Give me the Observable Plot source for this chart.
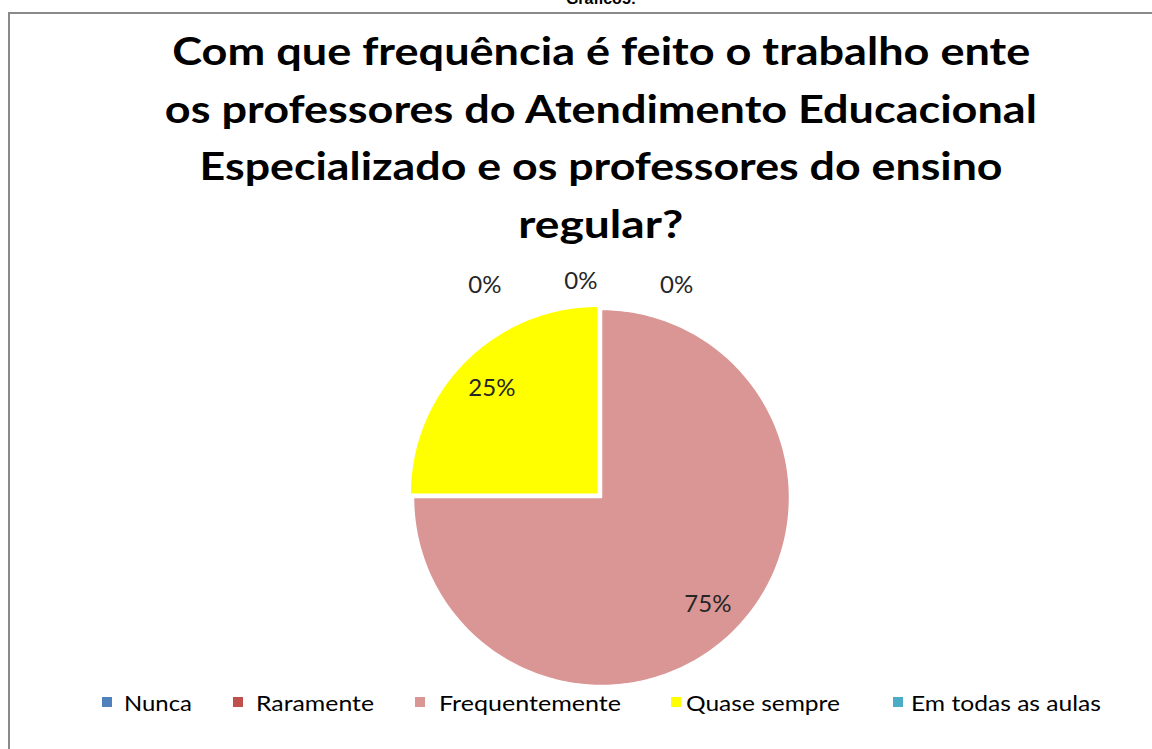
<!DOCTYPE html>
<html>
<head>
<meta charset="utf-8">
<script src="https://cdn.jsdelivr.net/npm/d3@7"></script>
<script src="https://cdn.jsdelivr.net/npm/@observablehq/plot@0.6"></script>
<style>
  html, body { margin: 0; padding: 0; background: #fff; }
  body { width: 1152px; height: 749px; position: relative; overflow: hidden; }
  #cap { position: absolute; top: -10px; left: 0; width: 1202px; text-align: center;
         font: bold 16px "Liberation Sans", Arial, sans-serif; color: #000; }
  #frame { position: absolute; left: 8px; top: 12px; width: 1300px; height: 900px;
           border: 2px solid #8a8a8a; box-sizing: border-box; z-index: 3; pointer-events: none; }
  #chart { position: absolute; left: 0; top: 0; z-index: 1; }
  #title { position: absolute; top: 22px; left: 0; width: 1202px; text-align: center; z-index: 2;
           font: bold 39px Lato, "Open Sans", sans-serif; line-height: 57.5px; color: #000; }
  #title span { display: inline-block; white-space: nowrap; transform-origin: 50% 50%; }
  #legend { position: absolute; top: 688px; left: 0; width: 1152px; height: 30px; z-index: 2; }
  .item { position: absolute; top: 0; height: 28px; display: flex; align-items: center; white-space: nowrap; }
  .sw { width: 10px; height: 10px; display: inline-block; }
  .lt { display: inline-block; font: 22px Lato, "Open Sans", sans-serif; color: #000; transform-origin: 0 50%; }
</style>
</head>
<body>
<div id="cap"></div>
<div id="chart"></div>
<div id="title"></div>
<div id="legend"></div>
<div id="frame"></div>
<script>
// ---- data ----
const figureCaption = "Gráfico5:";
const titleLines = [
  "Com que frequência é feito o trabalho ente",
  "os professores do Atendimento Educacional",
  "Especializado e os professores do ensino",
  "regular?"
];
const categories = ["Nunca", "Raramente", "Frequentemente", "Quase sempre", "Em todas as aulas"];
const values = [0, 0, 75, 25, 0];            // percent
const colors = ["#4F81BD", "#C0504D", "#D99694", "#FFFF00", "#4BACC6"];

// ---- layout ----
const titleWidths = [858, 872, 803, 165];
const legendLefts = [102, 233, 415, 671, 893];
const legendTextWidths = [68, 118, 182, 154, 190];
const legendGap = [12, 13, 14, 5, 8];
const explodeCat = "Quase sempre";
const explode = 0.025;

document.getElementById("cap").textContent = figureCaption;

// title
const titleEl = document.getElementById("title");
titleLines.forEach((t, i) => {
  const s = document.createElement("span");
  s.textContent = t;
  titleEl.appendChild(s);
  if (i < titleLines.length - 1) titleEl.appendChild(document.createElement("br"));
});

// legend
const legendEl = document.getElementById("legend");
categories.forEach((c, i) => {
  const it = document.createElement("div");
  it.className = "item";
  it.style.left = legendLefts[i] + "px";
  const sw = document.createElement("span");
  sw.className = "sw";
  sw.style.background = colors[i];
  const lt = document.createElement("span");
  lt.className = "lt";
  lt.textContent = c;
  lt.style.marginLeft = legendGap[i] + "px";
  it.appendChild(sw); it.appendChild(lt);
  legendEl.appendChild(it);
});

// pie geometry (Excel style: start at 12 o'clock, clockwise)
const total = d3.sum(values);
let cum = 0;
const slices = categories.map((name, i) => {
  const a0 = cum / total * 2 * Math.PI;
  cum += values[i];
  const a1 = cum / total * 2 * Math.PI;
  const mid = (a0 + a1) / 2;
  const off = name === explodeCat ? explode : 0;
  return {name, value: values[i], a0, a1, mid, ox: Math.sin(mid) * off, oy: Math.cos(mid) * off};
});

const pts = [];
slices.filter(s => s.value > 0).forEach(s => {
  const n = Math.max(2, Math.ceil((s.a1 - s.a0) / (Math.PI / 180)));
  pts.push({name: s.name, x: s.ox, y: s.oy});
  for (let k = 0; k <= n; k++) {
    const a = s.a0 + (s.a1 - s.a0) * k / n;
    pts.push({name: s.name, x: s.ox + Math.sin(a), y: s.oy + Math.cos(a)});
  }
  pts.push({name: s.name, x: s.ox, y: s.oy});
});

const inner = slices.filter(s => s.value > 0).map(s => ({
  label: s.value + "%",
  x: s.ox + Math.sin(s.mid) * 0.8,
  y: s.oy + Math.cos(s.mid) * 0.8
}));
const zeros = slices.filter(s => s.value === 0);
const outer = zeros.map((s, i) => ({
  label: s.value + "%",
  x: Math.sin(s.mid) * 1.13 + (i - (zeros.length - 1) / 2) * 0.51 - 0.11,
  y: Math.cos(s.mid) * 1.13 + (i === 1 ? 0.02 : 0)
}));

const plot = Plot.plot({
  width: 1152,
  height: 749,
  margin: 0,
  style: {background: "transparent"},
  x: {domain: [-1, 1], range: [413, 789], axis: null},
  y: {domain: [-1, 1], range: [685, 309], axis: null},
  color: {domain: categories, range: colors, type: "ordinal"},
  marks: [
    Plot.line(pts, {x: "x", y: "y", z: "name", fill: "name", stroke: "white", strokeWidth: 1.5, curve: "linear"}),
    Plot.text(inner, {x: "x", y: "y", text: "label", fontSize: 24, fontFamily: "Lato, 'Open Sans', sans-serif", fill: "#262626"}),
    Plot.text(outer, {x: "x", y: "y", text: "label", fontSize: 24, fontFamily: "Lato, 'Open Sans', sans-serif", fill: "#262626"})
  ]
});
document.getElementById("chart").appendChild(plot);

function fit() {
  titleEl.querySelectorAll("span").forEach((s, i) => {
    const w = s.getBoundingClientRect().width;
    if (w > 0) s.style.transform = `scaleX(${titleWidths[i] / w})`;
  });
  legendEl.querySelectorAll(".lt").forEach((s, i) => {
    const w = s.getBoundingClientRect().width;
    if (w > 0) s.style.transform = `scaleX(${legendTextWidths[i] / w})`;
  });
}
fit();
if (document.fonts && document.fonts.ready) document.fonts.ready.then(() => { 
  titleEl.querySelectorAll("span").forEach(s => s.style.transform = "");
  legendEl.querySelectorAll(".lt").forEach(s => s.style.transform = "");
  fit();
});
</script>
</body>
</html>
